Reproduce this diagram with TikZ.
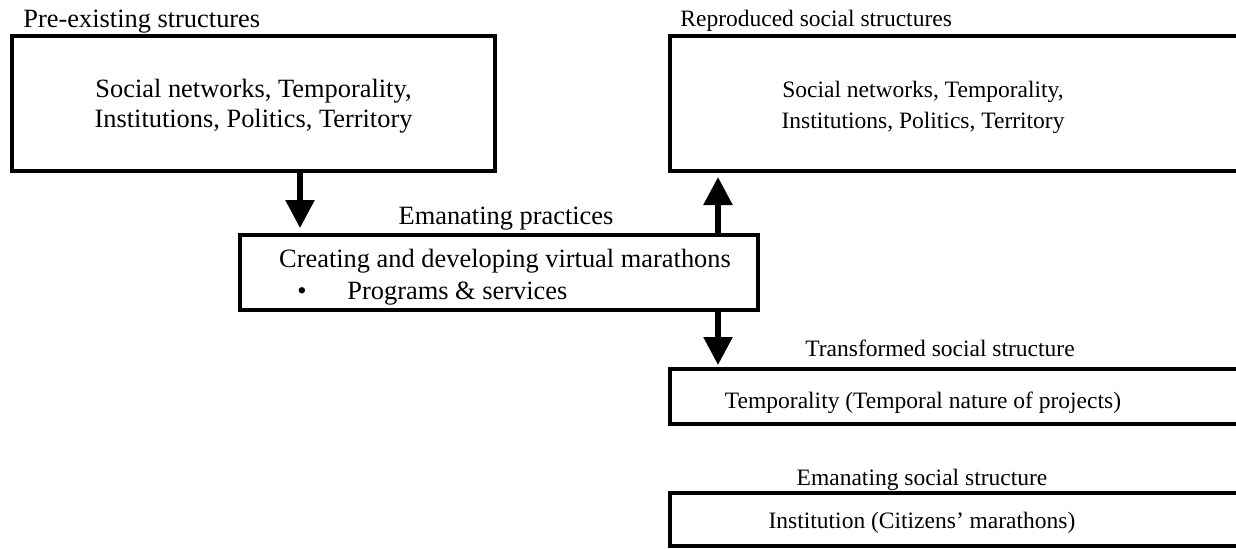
\documentclass[tikz,border=0pt]{standalone}
\usepackage{fontspec}
\setmainfont{Liberation Serif}
\usetikzlibrary{arrows.meta}
\begin{document}
\begin{tikzpicture}[x=0.5pt,y=-0.5pt,
  box/.style={draw,line width=1.8pt,inner sep=0pt,outer sep=0pt,rectangle},
  bigtxt/.style={font=\fontsize{13.2}{15}\selectfont,inner sep=0pt},
  smalltxt/.style={font=\fontsize{11.75}{15.5}\selectfont,inner sep=0pt},
  flow/.style={line width=2.8pt,-{Triangle[length=14pt,width=14pt]}}]
\useasboundingbox[fill=white] (0,0) rectangle (1236,548);

% boxes
\node[box,minimum width=241.5pt,minimum height=67.5pt] (pre) at (253.5,103.5) {};
\node[box,minimum width=285pt,minimum height=67.5pt] (rep) at (955,103.5) {};
\node[box,minimum width=259pt,minimum height=37.5pt] (prac) at (499,272.5) {};
\node[box,minimum width=285pt,minimum height=27.5pt] (trans) at (955,396.5) {};
\node[box,minimum width=285pt,minimum height=26.5pt] (eman) at (955,519.5) {};

% headings above the boxes
\node[bigtxt,anchor=base west] (preL) at (23,27) {Pre-existing structures};
\node[smalltxt,anchor=base west] (repL) at (680,26) {Reproduced social structures};
\node[bigtxt,anchor=base] (pracL) at (506,224) {Emanating practices};
\node[smalltxt,anchor=base] (transL) at (940,356) {Transformed social structure};
\node[smalltxt,anchor=base] (emanL) at (922,485) {Emanating social structure};

% box contents
\node[bigtxt,anchor=base] (preT) at (253.5,97)
  {\begin{tabular}[t]{@{}c@{}}Social networks, Temporality,\\Institutions, Politics, Territory\end{tabular}};
\node[smalltxt,anchor=base] (repT) at (923,97)
  {\begin{tabular}[t]{@{}c@{}}Social networks, Temporality,\\Institutions, Politics, Territory\end{tabular}};
\node[bigtxt,anchor=base] (pracT) at (505,267) {Creating and developing virtual marathons};
\node[bigtxt,anchor=base] (bul) at (302,299) {•};
\node[bigtxt,anchor=base west] (pracI) at (347,299) {Programs \& services};
\node[smalltxt,anchor=base] (transT) at (923,408) {Temporality (Temporal nature of projects)};
\node[smalltxt,anchor=base] (emanT) at (922,528) {Institution (Citizens’ marathons)};

% arrows
\coordinate (xa) at (300,0);
\coordinate (xb) at (718,0);
\draw[flow,shorten >=3.5pt] (xa |- pre.south) -- (xa |- prac.north);
\draw[flow,shorten >=3pt] (xb |- prac.north) -- (xb |- rep.south);
\draw[flow,shorten >=2pt] (xb |- prac.south) -- (xb |- trans.north);
\end{tikzpicture}
\end{document}
